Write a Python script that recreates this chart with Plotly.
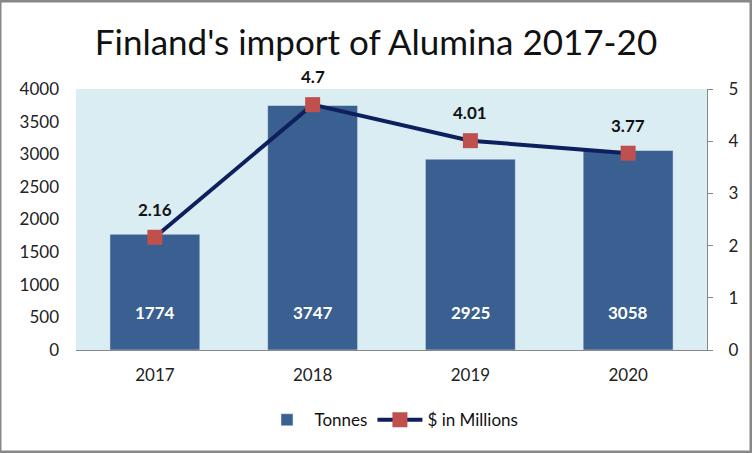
import plotly.graph_objects as go

years = ["2017", "2018", "2019", "2020"]
tonnes = [1774, 3747, 2925, 3058]
usd_millions = [2.16, 4.7, 4.01, 3.77]
usd_labels = ["2.16", "4.7", "4.01", "3.77"]

FONT = "Lato"

fig = go.Figure()
fig.add_trace(go.Bar(
    x=years, y=tonnes, name="Tonnes",
    marker=dict(color="#3A5F91"), width=0.57,
))
fig.add_trace(go.Scatter(
    x=years, y=usd_millions, name="$ in Millions", yaxis="y2",
    mode="lines+markers",
    line=dict(color="#0D1F5C", width=4),
    marker=dict(symbol="square", size=15, color="#C0504D"),
    cliponaxis=False,
))

annotations = []
for i, t in enumerate(tonnes):
    annotations.append(dict(x=i, y=0, xref="x", yref="y", text=f"<b>{t}</b>",
                            showarrow=False, yshift=38, yanchor="middle",
                            font=dict(family=FONT, size=17, color="white")))
for i, (v, lab) in enumerate(zip(usd_millions, usd_labels)):
    annotations.append(dict(x=i, y=v, xref="x", yref="y2", text=f"<b>{lab}</b>",
                            showarrow=False, yshift=28, yanchor="middle",
                            font=dict(family=FONT, size=17, color="#111111")))

fig.update_layout(
    width=752, height=453,
    margin=dict(l=76, r=45, t=89, b=103),
    paper_bgcolor="white",
    plot_bgcolor="#DAEDF3",
    font=dict(family=FONT, size=17, color="#222222"),
    title=dict(text="Finland's import of Alumina 2017-20", x=0.5, xanchor="center",
               y=0.905, yanchor="middle", font=dict(family=FONT, size=35, color="#111111")),
    bargap=0.43,
    showlegend=True,
    legend=dict(orientation="h", x=0.5, xanchor="center", y=-0.2, yanchor="top",
                font=dict(family=FONT, size=17, color="#111111"), itemwidth=45),
    xaxis=dict(type="category", showgrid=False, showline=True, linecolor="#888888",
               linewidth=1, ticks="", tickfont=dict(size=17), ticklabelstandoff=10),
    yaxis=dict(range=[0, 4000], dtick=500, showgrid=False, showline=False,
               ticks="", tickfont=dict(size=17), zeroline=False, ticklabelstandoff=16),
    yaxis2=dict(range=[0, 5], dtick=1, overlaying="y", side="right", showgrid=False,
                showline=True, linecolor="#888888", linewidth=1, ticks="outside",
                ticklen=5, tickcolor="#888888", tickfont=dict(size=17), zeroline=False,
                ticklabelstandoff=12),
    annotations=annotations,
    shapes=[dict(type="rect", xref="paper", yref="paper", x0=-76/631, x1=1+44/631,
                 y0=-102/261, y1=1+88/261, line=dict(color="#888888", width=3))],
)

fig.write_html("out.html")
